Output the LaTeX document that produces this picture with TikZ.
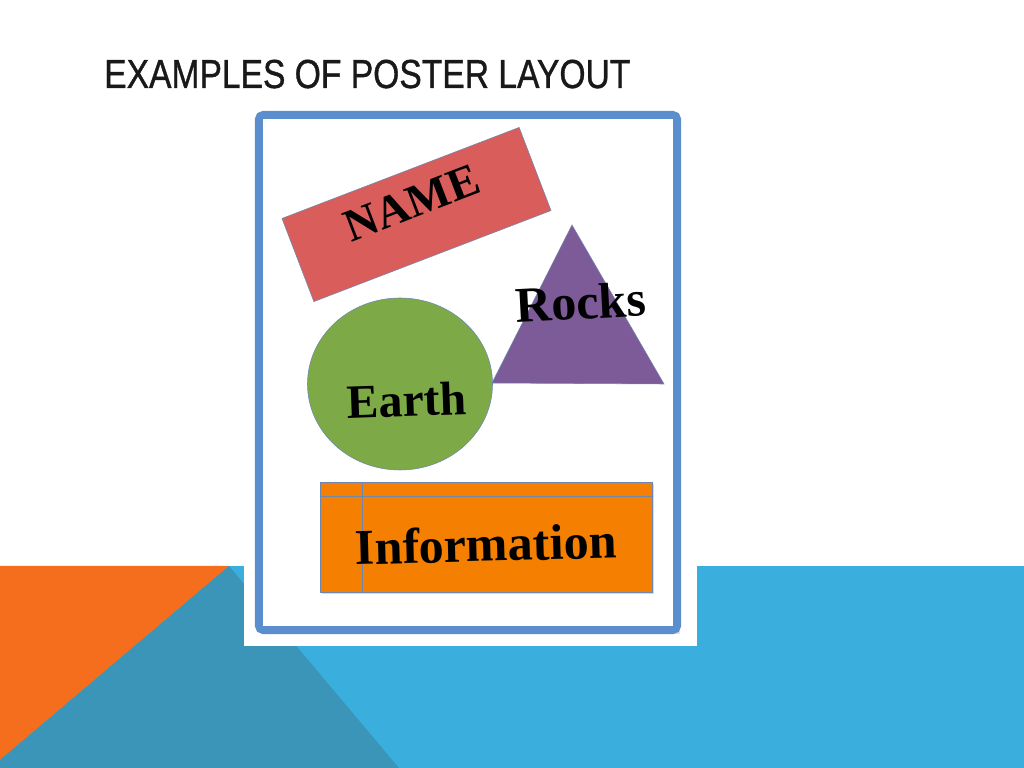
\documentclass[tikz,border=0pt]{standalone}
\usepackage{fontspec}
\setmainfont{Liberation Serif}
\newfontfamily\titlefont[FakeBold=1]{Liberation Sans}
\definecolor{bandblue}{RGB}{58,175,221}
\definecolor{bandteal}{RGB}{58,149,184}
\definecolor{bandorange}{RGB}{244,110,30}
\definecolor{frameblue}{RGB}{91,142,204}
\definecolor{namered}{RGB}{217,93,90}
\definecolor{rockpurple}{RGB}{125,90,152}
\definecolor{earthgreen}{RGB}{125,170,70}
\definecolor{infoorange}{RGB}{245,127,0}
\definecolor{edgegray}{RGB}{110,135,175}

\begin{document}
\begin{tikzpicture}[x=0.025cm,y=0.025cm,
  shapeedge/.style={draw=edgegray,line width=0.4pt},
  labeltext/.style={font=\bfseries\fontsize{#1}{#1}\selectfont,inner sep=0pt}]
  \useasboundingbox (0,0) rectangle (1024,768);
  \fill[white] (0,0) rectangle (1024,768);
  % coloured band at the foot of the slide
  \fill[bandblue] (0,0) rectangle (1024,202);
  \fill[bandorange] (0,202) -- (229,202) -- (0,8) -- cycle;
  \fill[bandteal] (229,202) -- (0,8) -- (0,0) -- (399,0) -- cycle;
  \fill[white] (244,122) rectangle (697,300);
  % poster sheet
  \fill[black!12] (261,134) rectangle (680,650);
  \draw[frameblue,line width=5.7pt,rounded corners=3pt] (259,138) rectangle (677,653);
  \fill[white] (263,142) rectangle (673,649);
  \node[font=\titlefont\fontsize{28.8}{30}\selectfont,xscale=0.83,anchor=base west,inner sep=0pt,text=black!90]
    (title) at (104,680) {EXAMPLES OF POSTER LAYOUT};
  % name banner
  \filldraw[fill=namered,shapeedge,rotate around={21:(416.5,553.5)}]
    (289.5,509) rectangle (543.5,598);
  \node[labeltext=32.7,rotate=21] (name) at (412,565) {NAME};
  % rocks triangle
  \filldraw[fill=rockpurple,shapeedge] (572,543) -- (664,384) -- (492,385) -- cycle;
  \node[labeltext=35.6,rotate=3] (rocks) at (581,466) {Rocks};
  % earth circle
  \filldraw[fill=earthgreen,shapeedge] (400,384) ellipse [x radius=92.5,y radius=86];
  \node[labeltext=34,rotate=2] (earth) at (407,368) {Earth};
  % information box
  \fill[black!15] (322,174) rectangle (654,284);
  \filldraw[fill=infoorange,shapeedge] (320,176) rectangle (652,286);
  \draw[edgegray,line width=0.4pt] (320,272) -- (652,272);
  \draw[edgegray,line width=0.4pt] (362,176) -- (362,286);
  \node[labeltext=35.6,rotate=1.5] (info) at (486,224) {Information};
\end{tikzpicture}
\end{document}
